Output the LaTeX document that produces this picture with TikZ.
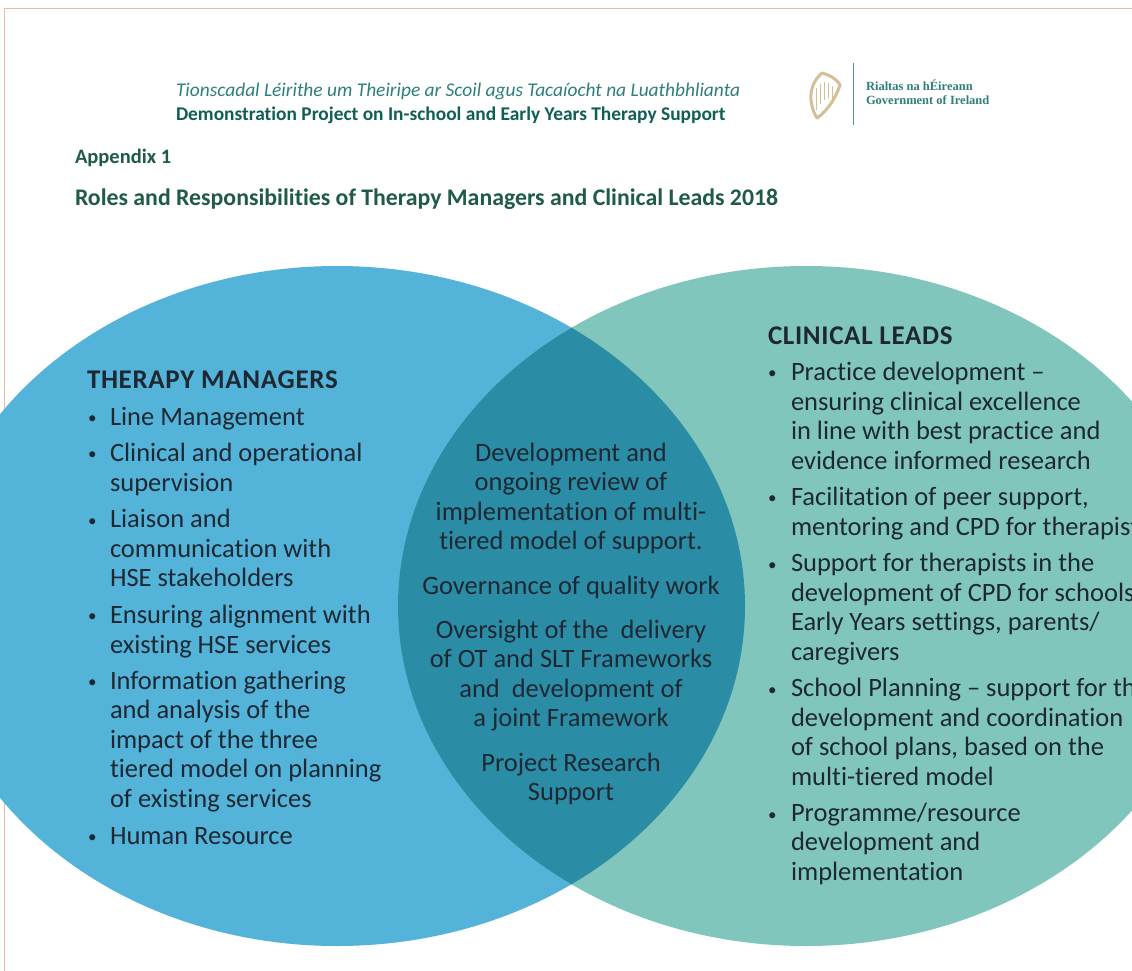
\documentclass[tikz,border=0pt]{standalone}
\usepackage{fontspec}
\setmainfont[Ligatures=NoCommon]{Carlito}
\newfontfamily\logofont{Liberation Serif}
\definecolor{managerblue}{HTML}{53B3D9}
\definecolor{leadgreen}{HTML}{80C6BD}
\definecolor{overlapblue}{HTML}{2B8CA6}
\definecolor{bodyink}{HTML}{1D2833}
\definecolor{titlegreen}{HTML}{1F5B45}
\definecolor{projectgreen}{HTML}{0F5F55}
\definecolor{irishteal}{HTML}{2F7F7A}
\definecolor{framepink}{HTML}{F0B8A4}
\definecolor{harptan}{HTML}{D3BF98}
\tikzset{
	every node/.style={inner sep=0pt,outer sep=0pt},
	heading/.style={anchor=base west,font=\fontsize{27}{29.4}\selectfont\bfseries\addfontfeature{LetterSpace=2.5},text=bodyink},
	entry/.style={anchor=base west,align=left,font=\fontsize{26.5}{29.4}\selectfont,text=bodyink},
	dot/.style={anchor=base west,font=\fontsize{17}{20}\selectfont,text=bodyink},
	shared/.style={anchor=base,align=center,font=\fontsize{26.5}{29.4}\selectfont,text=bodyink},
	logotext/.style={anchor=base west,font=\logofont\fontsize{12.5}{14}\selectfont\bfseries,text=irishteal}
}
\begin{document}
\begin{tikzpicture}[x=1pt,y=-1pt]
	\clip (0,0) rectangle (1132,971);
	\fill[white] (0,0) rectangle (1132,971);

	% frame of the page
	\draw[framepink,line width=1pt] (4,971) -- (4,9) -- (1132,9);

	% circles
	\fill[managerblue] (337,606) ellipse (408 and 340);
	\fill[leadgreen] (806,606) ellipse (408 and 340);
	\begin{scope}
		\clip (337,606) ellipse (408 and 340);
		\fill[overlapblue] (806,606) ellipse (408 and 340);
	\end{scope}

	% header
	\node[anchor=base west,font=\fontsize{19.4}{24}\selectfont\itshape,text=irishteal] (irish) at (176,96.5) {Tionscadal Léirithe um Theiripe ar Scoil agus Tacaíocht na Luathbhlianta};
	\node[anchor=base west,font=\fontsize{19.4}{24}\selectfont\bfseries,text=projectgreen] (project) at (176,120.5) {Demonstration Project on In-school and Early Years Therapy Support};
	\node[anchor=base west,font=\fontsize{20.5}{24}\selectfont\bfseries,text=titlegreen] (appendix) at (75,163.5) {Appendix 1};
	\node[anchor=base west,font=\fontsize{23.8}{28}\selectfont\bfseries,text=titlegreen] (title) at (75,205.5) {Roles and Responsibilities of Therapy Managers and Clinical Leads 2018};

	% logo
	\draw[harptan,line width=3pt,line join=round] (822,73) .. controls (815,79) and (810,88) .. (811,100) .. controls (812,109) and (815,115) .. (817,118) .. controls (826,112) and (835,100) .. (840,85) .. controls (836,78) and (829,75) .. (822,73) -- cycle;
	\foreach \harpx/\harpy in {816/88,820/84,824/82,828/83,832/86}
		\draw[harptan,line width=0.6pt] (\harpx,\harpy) -- (\harpx,{\harpy+22-(\harpx-816)*0.55});
	\draw[irishteal!80,line width=1pt] (853,63) -- (853,125);
	\node[logotext] (rialtas) at (866,91) {Rialtas na hÉireann};
	\node[logotext] (government) at (866,105) {Government of Ireland};

	% therapy managers
	\node[heading] (managers) at (87,388) {THERAPY MANAGERS};
	\foreach \dotname/\doty in {m1/423,m2/459,m3/526,m4/621,m5/687,m6/842}
		\node[dot] (\dotname) at (88,\doty) {•};
	\node[entry] (line) at (110,425) {Line Management};
	\node[entry] (clinical) at (110,491) {Clinical and operational\\supervision};
	\node[entry] (liaison) at (110,586.5) {Liaison and\\communication with\\HSE stakeholders};
	\node[entry] (ensuring) at (110,653) {Ensuring alignment with\\existing HSE services};
	\node[entry] (information) at (110,807) {Information gathering\\and analysis of the\\impact of the three\\tiered model on planning\\of existing services};
	\node[entry] (human) at (110,844) {Human Resource};

	% overlap
	\node[shared] (review) at (571,549.5) {Development and\\ongoing review of\\implementation of multi-\\tiered model of support.};
	\node[shared] (governance) at (571,594) {Governance of quality work};
	\node[shared] (oversight) at (571,726.5) {Oversight of the\ \ delivery\\of OT and SLT Frameworks\\and\ \ development of\\a joint Framework};
	\node[shared] (research) at (571,800.5) {Project Research\\Support};

	% clinical leads
	\node[heading] (leads) at (768,344) {CLINICAL LEADS};
	\foreach \dotname/\doty in {l1/378,l2/503,l3/570,l4/695,l5/820}
		\node[dot] (\dotname) at (768,\doty) {•};
	\node[entry] (practice) at (791,469) {Practice development –\\ensuring clinical excellence\\in line with best practice and\\evidence informed research};
	\node[entry] (peer) at (791,535) {Facilitation of peer support,\\mentoring and CPD for therapists};
	\node[entry] (support) at (791,660) {Support for therapists in the\\development of CPD for schools,\\Early Years settings, parents/\\caregivers};
	\node[entry] (planning) at (791,785) {School Planning – support for the\\development and coordination\\of school plans, based on the\\multi-tiered model};
	\node[entry] (programme) at (791,880) {Programme/resource\\development and\\implementation};
\end{tikzpicture}
\end{document}
